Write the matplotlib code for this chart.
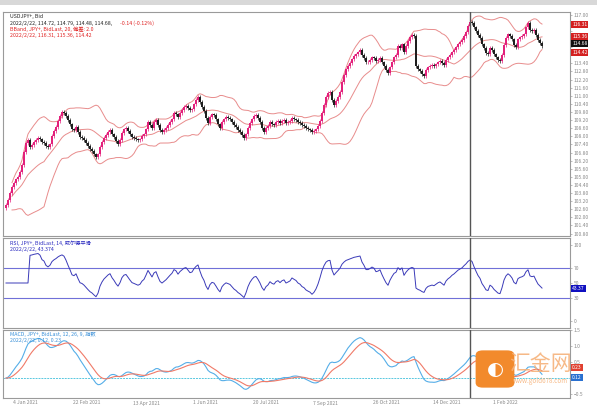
import numpy as np
import pandas as pd
import matplotlib
matplotlib.use('Agg')
import matplotlib.pyplot as plt
from matplotlib.patches import FancyBboxPatch, Rectangle
from matplotlib.ticker import MultipleLocator

plt.rcParams['font.family'] = ['Noto Sans CJK SC', 'DejaVu Sans']

# ---------------- data (daily closes) ----------------
first_open = 102.70
closes = [
    102.91, 103.28, 103.80, 104.24, 104.54, 104.83, 104.98, 105.35, 105.87, 106.83,
    107.50, 107.72, 107.20, 107.35, 107.57, 107.72, 107.87, 107.79, 107.57, 107.50,
    107.28, 107.20, 107.42, 108.02, 108.39, 108.68, 109.13, 109.50, 109.79, 109.72,
    109.50, 109.20, 108.90, 108.53, 108.46, 108.68, 108.31, 107.94, 107.87, 107.72,
    107.50, 107.28, 107.06, 106.91, 106.68, 106.46, 106.68, 107.20, 107.57, 107.87,
    108.09, 108.31, 108.46, 108.16, 107.94, 107.65, 107.42, 107.72, 108.24, 108.53,
    108.61, 108.39, 108.16, 107.94, 107.87, 107.79, 107.72, 107.79, 108.02, 108.16,
    108.53, 109.05, 108.83, 108.61, 109.05, 109.20, 108.83, 108.46, 108.31, 108.46,
    108.61, 108.83, 109.05, 109.27, 109.72, 109.64, 109.42, 109.72, 109.94, 110.16,
    110.24, 110.09, 109.94, 110.01, 110.38, 110.68, 110.90, 110.53, 110.16, 109.87,
    109.35, 108.98, 109.42, 109.64, 109.57, 109.27, 108.90, 108.61, 109.05, 109.27,
    109.42, 109.35, 109.27, 109.05, 108.83, 108.68, 108.46, 108.31, 108.09, 107.87,
    108.16, 108.61, 108.98, 109.27, 109.50, 109.57, 109.35, 109.05, 108.61, 108.31,
    108.61, 108.76, 109.05, 108.90, 108.83, 109.05, 109.13, 108.98, 109.13, 109.20,
    108.98, 109.05, 109.13, 109.35, 109.27, 109.20, 109.05, 108.98, 108.83, 108.76,
    108.61, 108.53, 108.46, 108.31, 108.39, 108.53, 108.76, 109.13, 109.72, 110.31,
    110.90, 111.20, 111.27, 110.68, 110.31, 110.61, 110.90, 111.27, 112.01, 112.53,
    112.97, 113.20, 113.42, 113.71, 113.94, 114.08, 114.23, 114.38, 114.01, 113.79,
    113.49, 113.49, 113.64, 113.86, 113.79, 113.57, 113.64, 113.79, 113.49, 113.20,
    112.90, 112.68, 113.12, 113.49, 113.86, 114.01, 114.68, 114.53, 114.82, 114.23,
    114.68, 115.05, 115.34, 115.49, 115.42, 113.20, 112.97, 112.83, 112.60, 112.46,
    112.90, 113.12, 113.20, 113.27, 113.20, 113.34, 113.49, 113.57, 113.42, 113.27,
    113.64, 113.86, 114.01, 114.23, 114.38, 114.60, 114.82, 114.97, 115.12, 115.42,
    115.71, 116.16, 116.46, 116.38, 116.08, 115.79, 115.49, 115.27, 114.82, 114.53,
    114.16, 114.08, 114.53, 114.38, 114.08, 113.86, 113.64, 113.57, 114.01, 114.75,
    115.27, 115.56, 115.42, 115.19, 114.75, 114.60, 115.19, 115.34, 115.42, 115.56,
    116.08, 116.38, 115.86, 115.79, 115.86, 115.49, 115.12, 114.90, 114.68,
]
separator_bar = 232          # bar where the vertical separator line is drawn
rsi_levels = [70, 30]
rsi_ticks = [0, 30, 50, 70, 100]
macd_ticks = [-0.5, 0.5, 1.0, 1.5]
date_labels = ['4 Jan 2021', '22 Feb 2021', '13 Apr 2021', '1 Jun 2021', '20 Jul 2021',
               '7 Sep 2021', '26 Oct 2021', '14 Dec 2021', '1 Feb 2022']

# ---------------- indicators ----------------
c = pd.Series(closes, dtype=float)
o = c.shift(1)
o.iloc[0] = first_open
n = len(c)
x = np.arange(n)

mid = c.rolling(20, min_periods=4).mean()
sd = c.rolling(20, min_periods=4).std(ddof=0)
up = mid + 2 * sd
lo = mid - 2 * sd

d = c.diff().fillna(0)
g = d.clip(lower=0).ewm(alpha=1 / 14, adjust=False).mean()
l = (-d.clip(upper=0)).ewm(alpha=1 / 14, adjust=False).mean()
rsi = 100 - 100 / (1 + g / l.replace(0, np.nan))
rsi = rsi.fillna(50)

ema12 = c.ewm(span=12, adjust=False).mean()
ema26 = c.ewm(span=26, adjust=False).mean()
macd = ema12 - ema26
sig = macd.ewm(span=9, adjust=False).mean()

# ---------------- figure ----------------
W, H = 597, 407
fig = plt.figure(figsize=(W / 100, H / 100), dpi=100)
fig.patch.set_facecolor('white')

def fx(px):
    return px / W

def fy(py):
    return 1 - py / H

L, R = 3, 570
ax1 = fig.add_axes([fx(L), fy(236), fx(R - L), (236 - 12) / H])
ax2 = fig.add_axes([fx(L), fy(328), fx(R - L), (328 - 238) / H])
ax3 = fig.add_axes([fx(L), fy(398), fx(R - L), (398 - 330) / H])

xlim = (-1.5, 282)
grey = '#9a9a9a'
bull, bear = '#e3207b', '#1e1e1e'
band_c = '#e88c8c'

for ax in (ax1, ax2, ax3):
    ax.set_xlim(*xlim)
    ax.set_facecolor('white')
    for s in ax.spines.values():
        s.set_color(grey)
        s.set_linewidth(0.8)
    ax.yaxis.tick_right()
    ax.tick_params(axis='y', labelsize=3.6, colors='#8a8a8a', length=1.5, width=0.4, pad=1)
    ax.tick_params(axis='x', bottom=False, labelbottom=False)
    ax.axvline(separator_bar, color='#555555', lw=1.0, zorder=5)

# --- main candles
ax1.set_ylim(100.62, 117.20)
ax1.plot(x, up, color=band_c, lw=0.7)
ax1.plot(x, mid, color=band_c, lw=0.7)
ax1.plot(x, lo, color=band_c, lw=0.7)
is_up = (c >= o).values
colors = np.where(is_up, bull, bear)
bottoms = np.minimum(o.values, c.values)
heights = np.maximum(np.abs(c.values - o.values), 0.04)
wick = 0.12
ax1.vlines(x, bottoms - wick, bottoms + heights + wick, colors=colors, lw=0.5, zorder=3)
ax1.bar(x, heights, bottom=bottoms, width=0.75, color=colors, linewidth=0, zorder=4)

# price boxes on the right axis; tick labels hidden where a box sits
box_vals = [up.iloc[-1], mid.iloc[-1], lo.iloc[-1], c.iloc[-1]]

def price_fmt(v, p):
    if any(abs(v - b) < 0.45 for b in box_vals):
        return ''
    return f'{v:.2f}'

ax1.yaxis.set_major_locator(MultipleLocator(0.6))
ax1.yaxis.set_major_formatter(plt.FuncFormatter(price_fmt))

def box(ax, val, txt, fc, dy=0, tc='white'):
    ax.annotate(txt, xy=(1.0, val), xycoords=('axes fraction', 'data'),
                xytext=(1.5, dy), textcoords='offset points', fontsize=3.6, color=tc,
                va='center', ha='left', zorder=20, annotation_clip=False,
                bbox=dict(boxstyle='square,pad=0.2', fc=fc, ec='none'))

box(ax1, up.iloc[-1], f'{up.iloc[-1]:.2f}', '#d42020')
box(ax1, mid.iloc[-1], f'{mid.iloc[-1]:.2f}', '#d42020')
box(ax1, lo.iloc[-1], f'{lo.iloc[-1]:.2f}', '#d42020', dy=-2.2)
box(ax1, c.iloc[-1], f'{c.iloc[-1]:.2f}', '#111111', dy=1.6)

# legend text main
t_kw = dict(transform=ax1.transAxes, fontsize=3.8, va='top', ha='left')
ax1.text(0.012, 0.99, 'USDJPY+, Bid', color='#222222', **t_kw)
ax1.text(0.012, 0.962, '2022/2/22, 114.72, 114.79, 114.48, 114.68,', color='#222222', **t_kw)
ax1.text(0.207, 0.962, '-0.14 (-0.12%)', color='#e02020', **t_kw)
ax1.text(0.012, 0.934, 'BBand, JPY+, BidLast, 20, 偏差: 2.0', color='#e02020', **t_kw)
ax1.text(0.012, 0.906, f'2022/2/22, {up.iloc[-1]:.2f}, {mid.iloc[-1]:.2f}, {lo.iloc[-1]:.2f}',
         color='#e02020', **t_kw)

# --- RSI
ax2.set_ylim(-9, 109)
for lv in rsi_levels:
    ax2.axhline(lv, color='#7070d8', lw=0.8)
ax2.plot(x, rsi, color='#3a3ab8', lw=0.7)
ax2.set_yticks(rsi_ticks)
box(ax2, rsi.iloc[-1], f'{rsi.iloc[-1]:.2f}', '#1010c0')
t2 = dict(transform=ax2.transAxes, fontsize=3.8, va='top', ha='left', color='#2a2ac0')
ax2.text(0.012, 0.975, 'RSI, JPY+, BidLast, 14, 威尔德平滑', **t2)
ax2.text(0.012, 0.905, f'2022/2/22, {rsi.iloc[-1]:.3f}', **t2)

# --- MACD
mx = float(np.nanmax(np.abs(macd.values)))
ax3.set_ylim(-mx * 0.49, mx * 1.17)
ax3.axhline(0, color='#58c8e0', lw=0.7, ls=(0, (2, 1)))
ax3.plot(x, macd, color='#55aee8', lw=0.8)
ax3.plot(x, sig, color='#f07a68', lw=0.8)
ax3.set_yticks(macd_ticks)
box(ax3, sig.iloc[-1], f'{sig.iloc[-1]:.2f}', '#e04030', dy=2.6)
box(ax3, macd.iloc[-1], f'{macd.iloc[-1]:.2f}', '#2a70d0', dy=-2.6)
t3 = dict(transform=ax3.transAxes, fontsize=3.8, va='top', ha='left', color='#3a90d8')
ax3.text(0.012, 0.975, 'MACD, JPY+, BidLast, 12, 26, 9, 指数', **t3)
ax3.text(0.012, 0.885, f'2022/2/22, {macd.iloc[-1]:.2f}, {sig.iloc[-1]:.2f}', **t3)

# bottom date axis labels
for k, lab in enumerate(date_labels):
    fig.text(fx(L + 10 + k * 60), fy(403), lab, fontsize=3.6, color='#8a8a8a',
             ha='left', va='center')

# top window strip
fig.add_artist(Rectangle((0, fy(5)), 1, 5 / H, transform=fig.transFigure,
                         fc='#d8d8d8', ec='none'))

# watermark logo
fig.add_artist(FancyBboxPatch((fx(478), fy(386)), fx(34), 34 / H,
                              boxstyle='round,pad=0.004,rounding_size=0.012',
                              transform=fig.transFigure, fc='#f28a2c', ec='none', zorder=10))
fig.text(fx(495), fy(369), '◐', fontsize=14, color='white', ha='center', va='center',
         family=['DejaVu Sans'], zorder=11)
fig.text(fx(540), fy(364), '汇金网', fontsize=15, color='#f6b27a', ha='center', va='center',
         alpha=0.9, zorder=11)
fig.text(fx(540), fy(381), 'www.gold678.com', fontsize=4.5, color='#f6b27a', ha='center',
         va='center', alpha=0.9, zorder=11)

fig.savefig('out.png', dpi=100, facecolor='white')
